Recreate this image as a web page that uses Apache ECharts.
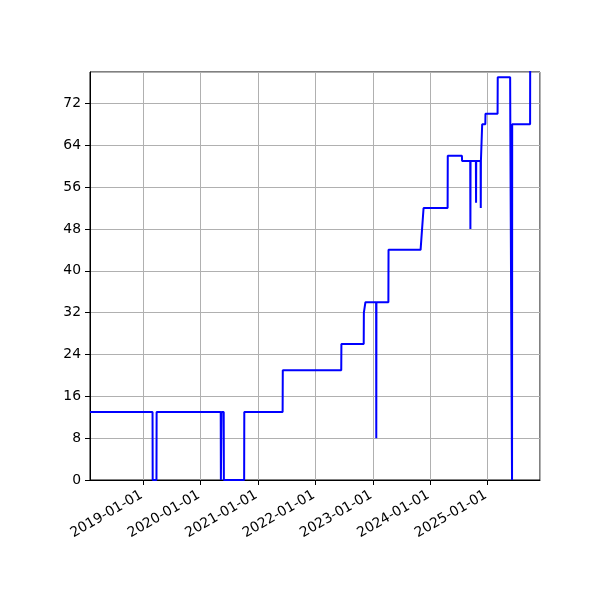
<!DOCTYPE html>
<html>
<head>
<meta charset="utf-8">
<script src="https://cdn.jsdelivr.net/npm/echarts@6/dist/echarts.min.js"></script>
<style>html,body{margin:0;padding:0;background:#fff}#c{width:600px;height:600px}</style>
</head>
<body>
<div id="c"></div>
<script>
const dates = [
  '2018-01-27','2019-03-01','2019-03-02','2019-03-26','2019-03-27',
  '2020-05-08','2020-05-09','2020-05-12','2020-05-13','2020-05-27','2020-05-28','2020-10-04','2020-10-05',
  '2021-06-06','2021-06-07','2022-06-14','2022-06-15','2022-11-04','2022-11-05','2022-11-14','2022-11-15',
  '2023-01-22','2023-01-23','2023-01-24','2023-04-10','2023-04-11','2023-11-01','2023-11-20',
  '2024-04-21','2024-04-22','2024-07-21','2024-07-22','2024-09-12','2024-09-13','2024-09-14',
  '2024-10-18','2024-10-19','2024-10-20','2024-11-17','2024-11-18','2024-11-19','2024-11-26','2024-11-27',
  '2024-12-17','2024-12-18','2025-03-05','2025-03-06','2025-05-24','2025-05-25','2025-06-04','2025-06-05','2025-06-06',
  '2025-09-28','2025-09-29'
];
const values = [
  13,13,0,0,13,
  13,0,0,13,13,0,0,13,
  13,21,21,26,26,32,32,34,
  34,8,34,34,44,44,52,
  52,62,62,61,61,48,61,
  61,53,61,61,52,61,61,68,
  68,70,70,77,77,68,68,0,68,
  68,90
];
const xTickLabels = ['2019-01-01','2020-01-01','2021-01-01','2022-01-01','2023-01-01','2024-01-01','2025-01-01'];
const xMin = '2018-01-27';
const xMax = '2025-11-30';
const yMin = 0, yMax = 78, yStep = 8;

const ts = s => { const [y,m,d] = s.split('-').map(Number); return new Date(y, m-1, d).getTime(); };
const fmt = v => { const d = new Date(v); return d.getFullYear() + '-' + String(d.getMonth()+1).padStart(2,'0') + '-' + String(d.getDate()).padStart(2,'0'); };
const seriesData = dates.map((d,i) => [ts(d), values[i]]);
const font = 'DejaVu Sans';
const chart = echarts.init(document.getElementById('c'), null, {renderer:'canvas'});
chart.setOption({
  animation: false,
  grid: {left: 90, right: 60, top: 72, bottom: 120, show: true, borderColor: '#000', borderWidth: 1, backgroundColor: 'transparent'},
  xAxis: {
    type: 'time',
    min: ts(xMin), max: ts(xMax),
    splitNumber: 8,
    axisLine: {show: true, lineStyle: {color: '#000', width: 1}},
    axisTick: {show: true, length: 5, lineStyle: {color: '#000'}},
    axisLabel: {show: true, rotate: 30, margin: 13, padding: [0, 2, 0, 0], color: '#000', fontFamily: font, fontSize: 13.9,
      showMinLabel: false, showMaxLabel: false,
      formatter: v => { const s = fmt(v); return xTickLabels.includes(s) ? s : ''; }},
    splitLine: {show: true, lineStyle: {color: '#b0b0b0', width: 1}},
    minorTick: {show: false}
  },
  yAxis: {
    type: 'value', min: yMin, max: yMax, interval: yStep,
    axisLine: {show: true, lineStyle: {color: '#000', width: 1}},
    axisTick: {show: true, length: 5, lineStyle: {color: '#000'}},
    axisLabel: {color: '#000', fontFamily: font, fontSize: 13.9, margin: 9, showMaxLabel: false,
      formatter: v => (v % yStep === 0 ? String(v) : '')},
    splitLine: {show: true, lineStyle: {color: '#b0b0b0', width: 1}}
  },
  series: [
    {
      type: 'line', data: seriesData, showSymbol: false, symbol: 'none', clip: true,
      lineStyle: {color: '#0000ff', width: 2}, z: 5
    }
  ]
});
</script>
</body>
</html>
